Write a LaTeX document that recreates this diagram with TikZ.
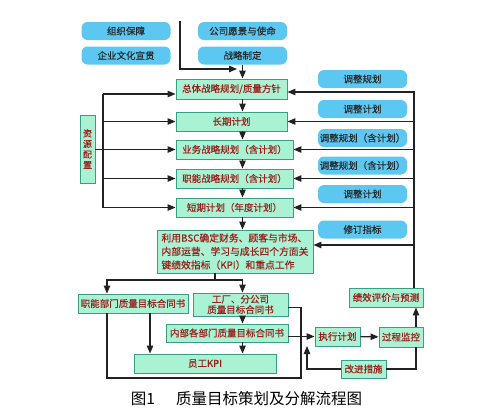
\documentclass[tikz,border=0pt]{standalone}
\usepackage{fontspec}
\setmainfont{Noto Sans CJK SC}
\newfontfamily\boxfont[FakeBold=0.3]{Noto Sans CJK SC}
\usepackage{xcolor}
\usetikzlibrary{arrows.meta, positioning, calc}

\definecolor{skyfill}{HTML}{5CC8F2}
\definecolor{mintfill}{HTML}{AAF2D4}
\definecolor{mintedge}{HTML}{3A9E82}
\definecolor{redtext}{HTML}{9A1E1A}
\definecolor{lineclr}{HTML}{222222}

\begin{document}
\begin{tikzpicture}[
    x=1pt, y=-1pt,
    sky/.style={fill=skyfill, rounded corners=6pt, minimum width=89pt, minimum height=18pt, inner sep=0pt, font=\boxfont\fontsize{9.5}{11}\selectfont, text=black!85},
    mint/.style={draw=mintedge, fill=mintfill, line width=0.9pt, minimum height=19pt, inner sep=0pt, align=center, font=\boxfont\fontsize{9.5}{11}\selectfont, text=redtext},
    flow/.style={-{Triangle[length=8pt, width=6.5pt]}, line width=1.1pt, draw=lineclr},
    link/.style={line width=1.1pt, draw=lineclr}
]
\useasboundingbox (0,0) rectangle (482,413);

% top
\node[sky] (org) at (126,31) {组织保障};
\node[sky] (culture) at (126,55.5) {企业文化宣贯};
\node[sky] (vision) at (242.5,31) {公司愿景与使命};
\node[sky] (strategy) at (242.5,55.5) {战略制定};

% main column
\node[mint, minimum width=111pt, minimum height=20pt] (overall) at (231.5,89) {总体战略规划/质量方针};
\node[mint, minimum width=111pt] (longterm) at (231.5,121.5) {长期计划};
\node[mint, minimum width=117pt] (business) at (234.5,149.5) {业务战略规划（含计划）};
\node[mint, minimum width=117pt] (function) at (234.5,178.5) {职能战略规划（含计划）};
\node[mint, minimum width=117pt] (shortterm) at (234.5,207.5) {短期计划（年度计划）};
\node[mint, minimum width=156pt, minimum height=43pt, align=left, font=\boxfont\fontsize{9.8}{13.5}\selectfont] (bsc) at (235,251.5) {利用BSC确定财务、顾客与市场、\\内部运营、学习与成长四个方面关\\键绩效指标（KPI）和重点工作};
\node[mint, minimum width=15pt, minimum height=68pt, font=\boxfont\fontsize{9}{10.5}\selectfont] (resource) at (87.5,149) {资\\源\\配\\置};

% lower part
\node[mint, minimum width=110pt] (funcdept) at (133,303.5) {职能部门质量目标合同书};
\node[mint, minimum width=95pt, minimum height=23pt, font=\boxfont\fontsize{9.5}{10.5}\selectfont] (factory) at (240.5,304.5) {工厂、分公司\\质量目标合同书};
\node[mint, minimum width=122pt, minimum height=18pt] (internal) at (227,333) {内部各部门质量目标合同书};
\node[mint, minimum width=142pt] (staffkpi) at (205,363.5) {员工KPI};

% right side
\node[sky] (adjplan) at (362.5,79) {调整规划};
\node[sky] (adjsched) at (362.5,109) {调整计划};
\node[sky] (adjmix) at (362.5,138) {调整规划（含计划）};
\node[sky] (adjmixb) at (362.5,165.5) {调整规划（含计划）};
\node[sky] (adjschedb) at (362.5,194) {调整计划};
\node[sky] (revise) at (362.5,229.5) {修订指标};
\node[mint, minimum width=74pt] (review) at (386,297.5) {绩效评价与预测};
\node[mint, minimum width=44pt, minimum height=20pt] (monitor) at (401,337) {过程监控};
\node[mint, minimum width=45pt] (execute) at (337.5,336.5) {执行计划};
\node[mint, minimum width=45pt, minimum height=18pt] (improve) at (363.5,369) {改进措施};

\node[font=\fontsize{15.5}{17}\selectfont] (caption) at (246.5,399) {图1\hspace{21pt}质量目标策划及分解流程图};

% connectors
\coordinate (feed) at (180,21);
\coordinate (feedend) at (237,69);
\draw[flow] (feed) |- (feedend);
\draw[flow] (strategy.south) -- (strategy.south |- overall.north);
\foreach \a/\b in {overall/longterm, longterm/business, business/function, function/shortterm, shortterm/bsc}
  \draw[flow] (\a.south -| strategy) -- (\b.north -| strategy);

\coordinate (lbus) at (103,94);
\coordinate (lbusend) at (103,207.5);
\draw[link] (lbus) -- (lbusend);
\draw[flow] (lbus) -- (lbus -| overall.west);
\foreach \n in {longterm, function, shortterm}
  \draw[flow] (\n.west -| lbus) -- (\n.west);
\draw[flow] (resource.east |- business.west) -- (business.west);

\coordinate (rbus) at (414,92);
\coordinate (bscin) at ([yshift=6.5pt]bsc.east);
\draw[flow] (review.north -| rbus) -- (rbus) -- (rbus -| overall.east);
\foreach \n in {longterm, business, function, shortterm}
  \draw[flow] (\n.east -| rbus) -- (\n.east);
\draw[flow] (bscin -| rbus) -- (bscin);

\coordinate (split) at (215,280);
\coordinate (lcol) at (107,280);
\coordinate (kcol) at (150,0);
\draw[link] (bsc.south -| split) -- (split);
\draw[flow] (split) -| (funcdept.north -| lcol);
\draw[flow] (split) -| (factory.north -| strategy);
\draw[flow] (factory.south -| strategy) -- (internal.north -| strategy);
\draw[flow] (internal.south -| strategy) -- (staffkpi.north -| strategy);
\draw[flow] (funcdept.south -| kcol) -- (staffkpi.north -| kcol);

\coordinate (loopl) at (107,378);
\coordinate (loopr) at (301,378);
\coordinate (facout) at ([yshift=-3pt]factory.east);
\draw[link] (funcdept.south -| loopl) -- (loopl) -- (loopr) |- (facout);

\coordinate (rcol) at (416,0);
\coordinate (backin) at (307,346);
\draw[flow] (execute.west -| internal.east) -- (execute.west);
\draw[flow] (execute) -- (monitor);
\draw[flow] (monitor.north -| rcol) -- (review.south -| rcol);
\draw[link] (monitor.south -| rcol) |- (improve.east);
\draw[flow] (improve.west) -| (backin);
\end{tikzpicture}
\end{document}
